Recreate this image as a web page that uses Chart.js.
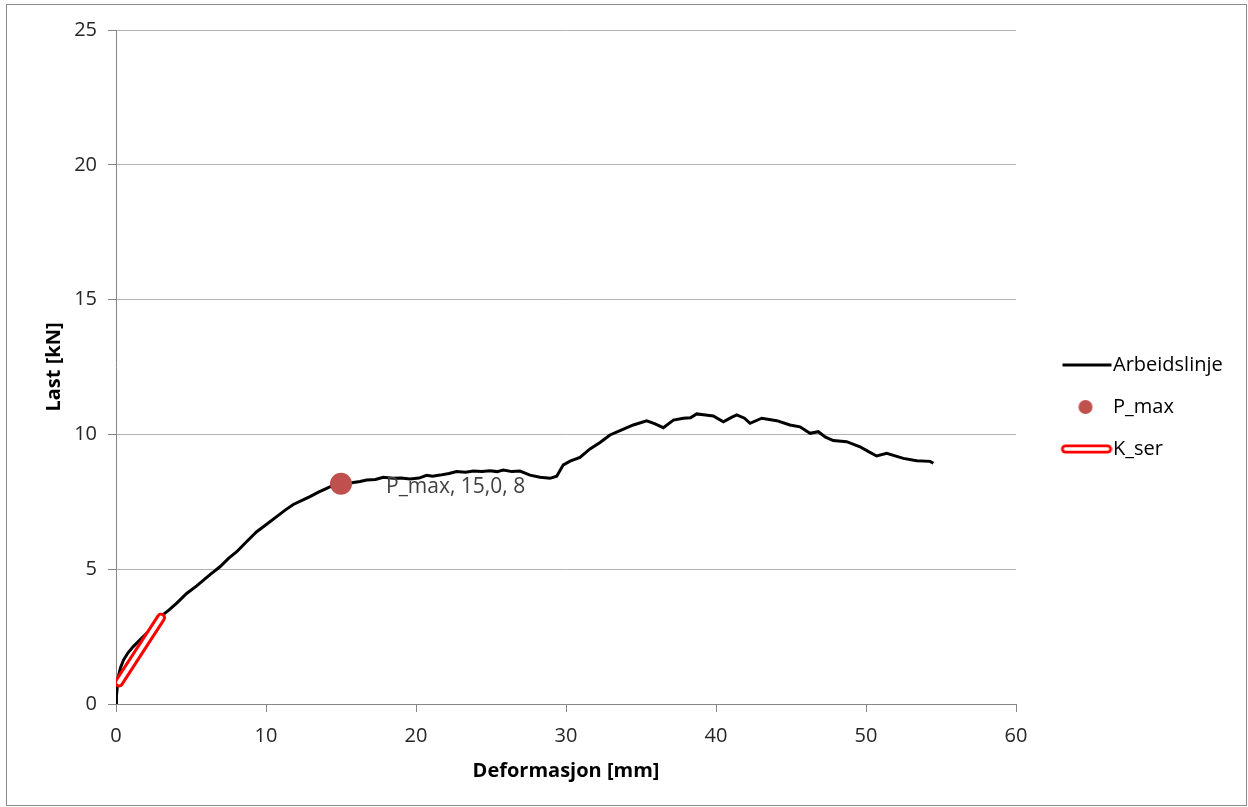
<!DOCTYPE html>
<html><head><meta charset="utf-8">
<script src="https://cdn.jsdelivr.net/npm/chart.js@4.4.0/dist/chart.umd.min.js"></script>
<style>html,body{margin:0;padding:0;background:#fff}#wrap{width:1248px;height:807px;position:relative}</style>
</head><body><div id="wrap"><canvas id="c" width="1248" height="807"></canvas></div>
<script>
// ---- data ----
const curveX = [0, 0.03, 0.1, 0.15, 0.3, 0.5, 0.8, 1.15, 1.6, 2.27, 2.93, 3.5, 4.05, 4.71, 5.38, 6.27, 6.93, 7.5, 8.05, 8.7, 9.38, 10.0, 10.71, 11.3, 11.82, 12.4, 12.93, 13.5, 14.05, 14.5, 15.0, 15.6, 16.27, 16.71, 17.3, 17.82, 18.49, 19.0, 19.6, 20.2, 20.71, 21.1, 21.6, 22.2, 22.71, 23.3, 23.82, 24.4, 24.93, 25.4, 25.82, 26.4, 26.93, 27.6, 28.27, 28.93, 29.38, 29.82, 30.27, 30.93, 31.6, 32.27, 32.93, 33.6, 34.49, 35.38, 35.9, 36.49, 37.16, 37.82, 38.3, 38.71, 39.3, 39.82, 40.49, 41.0, 41.38, 41.9, 42.27, 43.05, 44.05, 44.93, 45.6, 46.27, 46.82, 47.3, 47.82, 48.71, 49.6, 50.2, 50.71, 51.38, 52.49, 53.38, 54.27, 54.49];
const curveY = [0, 0.3, 0.7, 1.0, 1.35, 1.63, 1.9, 2.13, 2.38, 2.74, 3.22, 3.47, 3.74, 4.1, 4.38, 4.8, 5.09, 5.4, 5.65, 6.02, 6.39, 6.65, 6.95, 7.2, 7.4, 7.55, 7.69, 7.86, 8.0, 8.12, 8.17, 8.2, 8.25, 8.31, 8.33, 8.41, 8.37, 8.38, 8.35, 8.38, 8.48, 8.45, 8.49, 8.55, 8.62, 8.6, 8.64, 8.62, 8.65, 8.62, 8.68, 8.62, 8.64, 8.49, 8.41, 8.37, 8.45, 8.87, 9.01, 9.15, 9.46, 9.7, 9.98, 10.14, 10.35, 10.5, 10.4, 10.25, 10.53, 10.6, 10.62, 10.76, 10.72, 10.68, 10.47, 10.62, 10.72, 10.6, 10.41, 10.6, 10.51, 10.35, 10.28, 10.04, 10.1, 9.9, 9.77, 9.73, 9.54, 9.35, 9.2, 9.3, 9.11, 9.02, 9.0, 8.93];
const pmaxX = [15.0];
const pmaxY = [8.17];
const kserX = [0.2, 3.0];
const kserY = [0.8, 3.2];
const xTicks = [0, 10, 20, 30, 40, 50, 60];
const yTicks = [0, 5, 10, 15, 20, 25];
const seriesNames = ['Arbeidslinje', 'P_max', 'K_ser'];
const pmaxLabel = 'P_max, 15,0, 8';
const xTitle = 'Deformasjon [mm]';
const yTitle = 'Last [kN]';

// ---- styling ----
const FONT = "'Open Sans', sans-serif";
const FS = 20;
const LEG_PAD = 22, LEG_BOX = 65;
const toPts = (xs, ys) => xs.map((x, i) => ({x: x, y: ys[i]}));

function symbol(kind) {
  const c = document.createElement('canvas');
  c.width = 84; c.height = 20;
  const g = c.getContext('2d');
  g.lineCap = 'round';
  if (kind === 'line') {
    g.strokeStyle = '#000'; g.lineWidth = 3; g.lineCap = 'butt';
    g.beginPath(); g.moveTo(34, 10); g.lineTo(83, 10); g.stroke();
  } else if (kind === 'dot') {
    g.fillStyle = '#c0504d';
    g.beginPath(); g.arc(57, 10, 7, 0, Math.PI * 2); g.fill();
  } else {
    g.strokeStyle = '#ff0000'; g.lineWidth = 9;
    g.beginPath(); g.moveTo(37, 10); g.lineTo(79, 10); g.stroke();
    g.strokeStyle = '#ffffff'; g.lineWidth = 3.5;
    g.beginPath(); g.moveTo(37, 10); g.lineTo(79, 10); g.stroke();
  }
  return c;
}
const symbols = [symbol('line'), symbol('dot'), symbol('capsule')];

// measure legend text width to place chart area right edge at 1016
const mc = document.createElement('canvas').getContext('2d');
mc.font = FS + 'px ' + FONT;
const maxText = Math.max(...seriesNames.map(s => mc.measureText(s).width));
const legendW = LEG_PAD + LEG_BOX + FS / 2 + maxText + 10;
const padRight = Math.max(0, 1248 - 1016 - legendW);

const frame = {
  id: 'frame',
  beforeDraw(chart) {
    const ctx = chart.ctx;
    ctx.save(); ctx.fillStyle = '#fff'; ctx.fillRect(0, 0, chart.width, chart.height); ctx.restore();
  },
  afterDraw(chart) {
    const ctx = chart.ctx;
    ctx.save();
    ctx.strokeStyle = '#8c8c8c'; ctx.lineWidth = 1;
    ctx.strokeRect(6.5, 4.5, 1240, 801);
    ctx.restore();
  }
};
const pmaxLabelPlugin = {
  id: 'pmaxLabel',
  afterDatasetsDraw(chart) {
    const meta = chart.getDatasetMeta(1);
    const el = meta.data[0];
    if (!el) return;
    const ctx = chart.ctx;
    ctx.save();
    ctx.font = '21px ' + FONT;
    ctx.fillStyle = '#404040';
    ctx.textAlign = 'left'; ctx.textBaseline = 'middle';
    ctx.fillText(pmaxLabel, el.x + 45, el.y + 3);
    ctx.restore();
  }
};

new Chart(document.getElementById('c'), {
  type: 'scatter',
  data: {
    datasets: [
      {label: seriesNames[0], data: toPts(curveX, curveY), showLine: true, borderColor: '#000', borderWidth: 3, pointRadius: 0, tension: 0, order: 4},
      {label: seriesNames[1], data: toPts(pmaxX, pmaxY), showLine: false, backgroundColor: '#c0504d', borderColor: '#c0504d', borderWidth: 0, pointRadius: 11, order: 3},
      {label: seriesNames[2], data: toPts(kserX, kserY), showLine: true, borderColor: '#ff0000', borderWidth: 10, borderCapStyle: 'round', pointRadius: 0, order: 2},
      {label: seriesNames[2] + ' inner', data: toPts(kserX, kserY), showLine: true, borderColor: '#ffffff', borderWidth: 4, borderCapStyle: 'round', pointRadius: 0, order: 1}
    ]
  },
  options: {
    responsive: false,
    animation: false,
    events: [],
    layout: {padding: {top: 30, bottom: 23, left: 10, right: padRight}},
    plugins: {
      tooltip: {enabled: false},
      legend: {
        position: 'right',
        align: 'center',
        labels: {
          usePointStyle: true,
          pointStyleWidth: LEG_BOX,
          padding: LEG_PAD,
          color: '#000',
          font: {family: FONT, size: FS},
          generateLabels: () => seriesNames.map((n, i) => ({
            text: n, pointStyle: symbols[i], fillStyle: '#fff', strokeStyle: '#fff', lineWidth: 0, hidden: false, datasetIndex: i
          }))
        }
      }
    },
    scales: {
      x: {
        type: 'linear', min: xTicks[0], max: xTicks[xTicks.length - 1],
        afterFit: s => { s.height = 80; },
        afterBuildTicks: s => { s.ticks = xTicks.map(v => ({value: v})); },
        ticks: {font: {family: FONT, size: FS}, color: '#262626', padding: 12, maxRotation: 0},
        grid: {drawOnChartArea: false, drawTicks: true, tickLength: 8, tickColor: '#868686'},
        border: {color: '#868686', width: 1},
        title: {display: true, text: xTitle, color: '#000', font: {family: FONT, size: FS, weight: 'bold'}, padding: {top: 0, bottom: 1}}
      },
      y: {
        type: 'linear', min: yTicks[0], max: yTicks[yTicks.length - 1],
        afterFit: s => { s.width = 106; },
        afterBuildTicks: s => { s.ticks = yTicks.map(v => ({value: v})); },
        ticks: {font: {family: FONT, size: FS}, color: '#262626', padding: 11},
        grid: {color: '#b3b3b3', drawTicks: true, tickLength: 8, tickColor: '#868686'},
        border: {color: '#868686', width: 1},
        title: {display: true, text: yTitle, color: '#000', font: {family: FONT, size: FS, weight: 'bold'}, padding: {top: 32, bottom: 0}}
      }
    }
  },
  plugins: [frame, pmaxLabelPlugin]
});
</script>
</body></html>
